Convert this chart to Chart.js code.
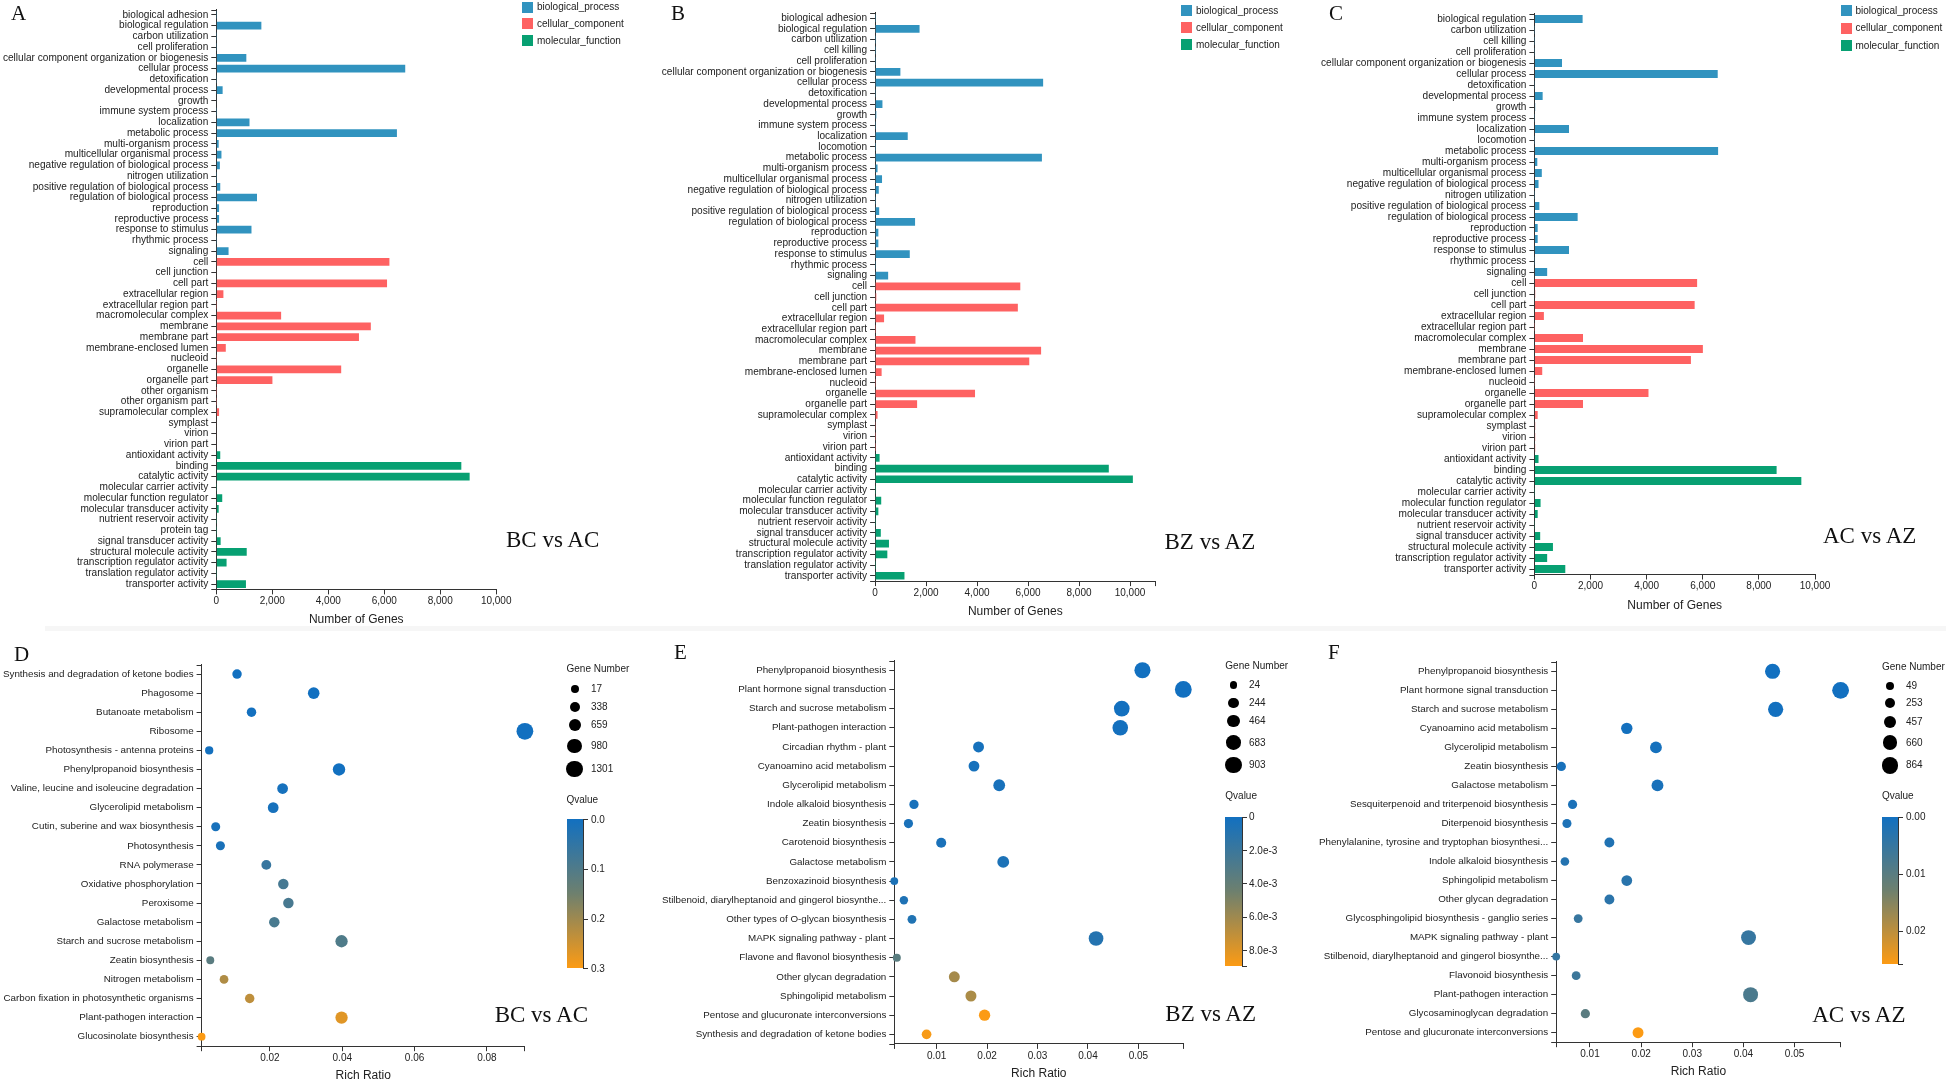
<!DOCTYPE html>
<html>
<head>
<meta charset="utf-8">
<title>GO classification and KEGG enrichment</title>
<script src="https://cdn.jsdelivr.net/npm/chart.js@4.4.1/dist/chart.umd.min.js"></script>
<style>
  html, body { margin: 0; padding: 0; background: #fff; overflow: hidden; }
  #page { position: relative; width: 1946px; height: 1083px; font-family: 'Liberation Sans', Arial, sans-serif; color: #222; }
  .txt { position: absolute; white-space: nowrap; }
  .serif { font-family: 'Liberation Serif', 'Times New Roman', serif; color: #111; line-height: 1; }
  .dot { position: absolute; border-radius: 50%; background: #000; }
  .blk { position: absolute; }
</style>
</head>
<body>
<div id="page"></div>
<script>
// ---------- GO classification, panel A (BC vs AC) ----------
var bpTermsA = ['biological adhesion', 'biological regulation', 'carbon utilization', 'cell proliferation',
  'cellular component organization or biogenesis', 'cellular process', 'detoxification', 'developmental process',
  'growth', 'immune system process', 'localization', 'metabolic process', 'multi-organism process',
  'multicellular organismal process', 'negative regulation of biological process', 'nitrogen utilization',
  'positive regulation of biological process', 'regulation of biological process', 'reproduction',
  'reproductive process', 'response to stimulus', 'rhythmic process', 'signaling'];
var bpCountsA = [4, 1610, 3, 5, 1073, 6750, 6, 226, 20, 4, 1186, 6453, 85, 184, 127, 3, 141, 1454, 99, 99, 1257, 5, 438];
var ccTermsA = ['cell', 'cell junction', 'cell part', 'extracellular region', 'extracellular region part',
  'macromolecular complex', 'membrane', 'membrane part', 'membrane-enclosed lumen', 'nucleoid', 'organelle',
  'organelle part', 'other organism', 'other organism part', 'supramolecular complex', 'symplast', 'virion', 'virion part'];
var ccCountsA = [6185, 20, 6100, 254, 3, 2316, 5521, 5097, 339, 4, 4462, 2005, 2, 2, 99, 20, 20, 20];
var mfTermsA = ['antioxidant activity', 'binding', 'catalytic activity', 'molecular carrier activity',
  'molecular function regulator', 'molecular transducer activity', 'nutrient reservoir activity', 'protein tag',
  'signal transducer activity', 'structural molecule activity', 'transcription regulator activity',
  'translation regulator activity', 'transporter activity'];
var mfCountsA = [141, 8754, 9051, 3, 212, 85, 5, 2, 155, 1087, 367, 4, 1059];

// ---------- GO classification, panel B (BZ vs AZ) ----------
var bpTermsB = ['biological adhesion', 'biological regulation', 'carbon utilization', 'cell killing', 'cell proliferation',
  'cellular component organization or biogenesis', 'cellular process', 'detoxification', 'developmental process',
  'growth', 'immune system process', 'localization', 'locomotion', 'metabolic process', 'multi-organism process',
  'multicellular organismal process', 'negative regulation of biological process', 'nitrogen utilization',
  'positive regulation of biological process', 'regulation of biological process', 'reproduction',
  'reproductive process', 'response to stimulus', 'rhythmic process', 'signaling'];
var bpCountsB = [4, 1744, 3, 2, 5, 992, 6592, 6, 288, 48, 4, 1280, 2, 6544, 96, 272, 144, 3, 160, 1568, 128, 128, 1360, 5, 512];
var ccTermsB = ['cell', 'cell junction', 'cell part', 'extracellular region', 'extracellular region part',
  'macromolecular complex', 'membrane', 'membrane part', 'membrane-enclosed lumen', 'nucleoid', 'organelle',
  'organelle part', 'supramolecular complex', 'symplast', 'virion', 'virion part'];
var ccCountsB = [5696, 48, 5600, 352, 3, 1584, 6512, 6048, 256, 4, 3920, 1648, 96, 32, 3, 3];
var mfTermsB = ['antioxidant activity', 'binding', 'catalytic activity', 'molecular carrier activity',
  'molecular function regulator', 'molecular transducer activity', 'nutrient reservoir activity',
  'signal transducer activity', 'structural molecule activity', 'transcription regulator activity',
  'translation regulator activity', 'transporter activity'];
var mfCountsB = [176, 9168, 10112, 3, 240, 128, 5, 224, 544, 480, 4, 1152];

// ---------- GO classification, panel C (AC vs AZ) ----------
var bpTermsC = ['biological regulation', 'carbon utilization', 'cell killing', 'cell proliferation',
  'cellular component organization or biogenesis', 'cellular process', 'detoxification', 'developmental process',
  'growth', 'immune system process', 'localization', 'locomotion', 'metabolic process', 'multi-organism process',
  'multicellular organismal process', 'negative regulation of biological process', 'nitrogen utilization',
  'positive regulation of biological process', 'regulation of biological process', 'reproduction',
  'reproductive process', 'response to stimulus', 'rhythmic process', 'signaling'];
var bpCountsC = [1718, 3, 2, 5, 984, 6533, 6, 294, 29, 4, 1233, 2, 6547, 103, 264, 147, 3, 176, 1541, 117, 117, 1233, 5, 455];
var ccTermsC = ['cell', 'cell junction', 'cell part', 'extracellular region', 'extracellular region part',
  'macromolecular complex', 'membrane', 'membrane part', 'membrane-enclosed lumen', 'nucleoid', 'organelle',
  'organelle part', 'supramolecular complex', 'symplast', 'virion', 'virion part'];
var ccCountsC = [5799, 29, 5711, 338, 3, 1732, 6004, 5578, 279, 4, 4066, 1732, 117, 29, 29, 29];
var mfTermsC = ['antioxidant activity', 'binding', 'catalytic activity', 'molecular carrier activity',
  'molecular function regulator', 'molecular transducer activity', 'nutrient reservoir activity',
  'signal transducer activity', 'structural molecule activity', 'transcription regulator activity',
  'transporter activity'];
var mfCountsC = [147, 8632, 9513, 3, 220, 117, 5, 206, 661, 455, 1101];

var geneTicks = [0, 2000, 4000, 6000, 8000, 10000];

// ---------- KEGG enrichment, panel D (BC vs AC) ----------
var pathwaysD = ['Synthesis and degradation of ketone bodies', 'Phagosome', 'Butanoate metabolism', 'Ribosome',
  'Photosynthesis - antenna proteins', 'Phenylpropanoid biosynthesis', 'Valine, leucine and isoleucine degradation',
  'Glycerolipid metabolism', 'Cutin, suberine and wax biosynthesis', 'Photosynthesis', 'RNA polymerase',
  'Oxidative phosphorylation', 'Peroxisome', 'Galactose metabolism', 'Starch and sucrose metabolism',
  'Zeatin biosynthesis', 'Nitrogen metabolism', 'Carbon fixation in photosynthetic organisms',
  'Plant-pathogen interaction', 'Glucosinolate biosynthesis'];
var richD = [0.0109, 0.0321, 0.0149, 0.0905, 0.0032, 0.0391, 0.0235, 0.0209, 0.0050, 0.0063,
  0.0190, 0.0237, 0.0251, 0.0212, 0.0398, 0.0035, 0.0073, 0.0144, 0.0398, 0.0011];
var genesD = [256, 554, 256, 1301, 77, 674, 435, 435, 196, 196, 307, 405, 405, 405, 659, 30, 151, 256, 659, 17];
var qD = [0.0001, 0.0003, 0.002, 0.0, 0.004, 0.0005, 0.006, 0.008, 0.01, 0.012,
  0.06, 0.085, 0.088, 0.09, 0.1, 0.117, 0.219, 0.234, 0.27, 0.3];
var xTicksD = [0.02, 0.04, 0.06, 0.08];
var sizeLegendD = [17, 338, 659, 980, 1301];
var qTicksD = [0, 0.1, 0.2, 0.3];
var qTickTextD = ['0.0', '0.1', '0.2', '0.3'];

// ---------- KEGG enrichment, panel E (BZ vs AZ) ----------
var pathwaysE = ['Phenylpropanoid biosynthesis', 'Plant hormone signal transduction', 'Starch and sucrose metabolism',
  'Plant-pathogen interaction', 'Circadian rhythm - plant', 'Cyanoamino acid metabolism', 'Glycerolipid metabolism',
  'Indole alkaloid biosynthesis', 'Zeatin biosynthesis', 'Carotenoid biosynthesis', 'Galactose metabolism',
  'Benzoxazinoid biosynthesis', 'Stilbenoid, diarylheptanoid and gingerol biosynthe...',
  'Other types of O-glycan biosynthesis', 'MAPK signaling pathway - plant', 'Flavone and flavonol biosynthesis',
  'Other glycan degradation', 'Sphingolipid metabolism', 'Pentose and glucuronate interconversions',
  'Synthesis and degradation of ketone bodies'];
var richE = [0.0508, 0.0589, 0.0467, 0.0464, 0.0183, 0.0174, 0.0224, 0.0055, 0.0044, 0.0109,
  0.0232, 0.0016, 0.0035, 0.0051, 0.0416, 0.0021, 0.0135, 0.0168, 0.0195, 0.0080];
var genesE = [831, 903, 790, 780, 331, 320, 412, 167, 160, 249, 420, 24, 85, 126, 698, 44, 330, 335, 371, 208];
var qE = [0.0, 0.0, 0.00005, 0.0001, 0.0002, 0.0002, 0.0003, 0.0003, 0.0004, 0.0004,
  0.0005, 0.0005, 0.0006, 0.0007, 0.0009, 0.0035, 0.0062, 0.0064, 0.00896, 0.0088];
var xTicksE = [0.01, 0.02, 0.03, 0.04, 0.05];
var sizeLegendE = [24, 244, 464, 683, 903];
var qTicksE = [0, 0.002, 0.004, 0.006, 0.008];
var qTickTextE = ['0', '2.0e-3', '4.0e-3', '6.0e-3', '8.0e-3'];

// ---------- KEGG enrichment, panel F (AC vs AZ) ----------
var pathwaysF = ['Phenylpropanoid biosynthesis', 'Plant hormone signal transduction', 'Starch and sucrose metabolism',
  'Cyanoamino acid metabolism', 'Glycerolipid metabolism', 'Zeatin biosynthesis', 'Galactose metabolism',
  'Sesquiterpenoid and triterpenoid biosynthesis', 'Diterpenoid biosynthesis',
  'Phenylalanine, tyrosine and tryptophan biosynthesi...', 'Indole alkaloid biosynthesis', 'Sphingolipid metabolism',
  'Other glycan degradation', 'Glycosphingolipid biosynthesis - ganglio series', 'MAPK signaling pathway - plant',
  'Stilbenoid, diarylheptanoid and gingerol biosynthe...', 'Flavonoid biosynthesis', 'Plant-pathogen interaction',
  'Glycosaminoglycan degradation', 'Pentose and glucuronate interconversions'];
var richF = [0.0457, 0.0590, 0.0463, 0.0172, 0.0229, 0.0044, 0.0232, 0.0066, 0.0055, 0.0138,
  0.0051, 0.0172, 0.0138, 0.0077, 0.0410, 0.0034, 0.0073, 0.0414, 0.0091, 0.0194];
var genesF = [712, 864, 720, 371, 409, 182, 415, 175, 160, 239, 125, 314, 235, 144, 693, 49, 140, 700, 182, 333];
var qF = [0.0, 0.0, 0.0001, 0.0003, 0.0005, 0.0008, 0.001, 0.0012, 0.0015, 0.002,
  0.0025, 0.0032, 0.0035, 0.0052, 0.005, 0.0048, 0.006, 0.008, 0.0101, 0.0259];
var xTicksF = [0.01, 0.02, 0.03, 0.04, 0.05];
var sizeLegendF = [49, 253, 457, 660, 864];
var qTicksF = [0, 0.01, 0.02];
var qTickTextF = ['0.00', '0.01', '0.02'];

// ---------- styling ----------
var goColors = { bp: '#3193bf', cc: '#fe6262', mf: '#07a072' };
var goNames = ['biological_process', 'cellular_component', 'molecular_function'];
var axisColor = '#333';
var qStops = [[18, 112, 192], [110, 128, 110], [252, 155, 20]];

Chart.defaults.font.family = "'Liberation Sans', Arial, sans-serif";
Chart.defaults.color = '#222';
Chart.defaults.animation = false;

var page = document.getElementById('page');

function qColor(t) {
  t = Math.max(0, Math.min(1, t));
  var s = t < 0.5 ? 0 : 1;
  var u = t < 0.5 ? t * 2 : (t - 0.5) * 2;
  var a = qStops[s], b = qStops[s + 1];
  return 'rgb(' + [0, 1, 2].map(function (k) { return Math.round(a[k] + (b[k] - a[k]) * u); }).join(',') + ')';
}

function sizeScale(genes) {
  var lo = Math.min.apply(null, genes), hi = Math.max.apply(null, genes);
  return function (n) { return 3.9 + (n - lo) / (hi - lo) * 4.5; };
}

function addText(txt, left, centerY, size) {
  var d = document.createElement('div');
  d.className = 'txt';
  d.textContent = txt;
  d.style.left = left + 'px';
  d.style.top = (centerY - size * 0.6) + 'px';
  d.style.fontSize = size + 'px';
  d.style.lineHeight = (size * 1.2) + 'px';
  page.appendChild(d);
  return d;
}

// serif label, positioned by the top of its capitals
function addSerif(txt, left, capTop, size) {
  var d = document.createElement('div');
  d.className = 'txt serif';
  d.textContent = txt;
  d.style.left = left + 'px';
  d.style.top = (capTop - size * 0.1755) + 'px';
  d.style.fontSize = size + 'px';
  page.appendChild(d);
}

function addBlock(left, top, w, h, bg) {
  var d = document.createElement('div');
  d.className = 'blk';
  d.style.left = left + 'px';
  d.style.top = top + 'px';
  d.style.width = w + 'px';
  d.style.height = h + 'px';
  d.style.background = bg;
  page.appendChild(d);
  return d;
}

function makeCanvas(box) {
  var c = document.createElement('canvas');
  c.width = box.w;
  c.height = box.h;
  c.style.position = 'absolute';
  c.style.left = box.left + 'px';
  c.style.top = box.top + 'px';
  page.appendChild(c);
  return c;
}

function padFor(box, plot) {
  return {
    left: plot.left - box.left - plot.yW,
    top: plot.top - box.top,
    right: box.left + box.w - plot.right,
    bottom: box.top + box.h - plot.bottom - plot.xH
  };
}

// d3 style outer ticks at both ends of the y axis
var outerTicks = {
  id: 'outerTicks',
  afterDraw: function (chart) {
    var a = chart.chartArea, c = chart.ctx;
    c.save();
    c.strokeStyle = axisColor;
    c.lineWidth = 1;
    c.beginPath();
    c.moveTo(a.left - 5, Math.round(a.top) + 0.5);
    c.lineTo(a.left, Math.round(a.top) + 0.5);
    c.moveTo(a.left - 5, Math.round(a.bottom) + 0.5);
    c.lineTo(a.left, Math.round(a.bottom) + 0.5);
    c.stroke();
    c.restore();
  }
};

function goChart(box, plot, bp, bpN, cc, ccN, mf, mfN, xMax) {
  var labels = bp.concat(cc, mf);
  function series(terms, counts) {
    return labels.map(function (l) {
      var i = terms.indexOf(l);
      return i < 0 ? null : counts[i];
    });
  }
  function ds(terms, counts, color) {
    return { data: series(terms, counts), backgroundColor: color, barPercentage: 0.72, categoryPercentage: 1, grouped: false };
  }
  var tickVals = geneTicks.concat(xMax > geneTicks[geneTicks.length - 1] ? [xMax] : []);
  new Chart(makeCanvas(box), {
    type: 'bar',
    data: {
      labels: labels,
      datasets: [ds(bp, bpN, goColors.bp), ds(cc, ccN, goColors.cc), ds(mf, mfN, goColors.mf)]
    },
    options: {
      indexAxis: 'y',
      responsive: false,
      layout: { padding: padFor(box, plot) },
      plugins: { legend: { display: false }, tooltip: { enabled: false } },
      scales: {
        x: {
          type: 'linear', min: 0, max: xMax, bounds: 'data',
          afterBuildTicks: function (s) { s.ticks = tickVals.map(function (v) { return { value: v }; }); },
          ticks: {
            autoSkip: false, maxRotation: 0, padding: 1, font: { size: 10 },
            callback: function (v) { return geneTicks.indexOf(v) < 0 ? '' : v.toLocaleString('en-US'); }
          },
          grid: { drawOnChartArea: false, tickLength: 5, color: axisColor },
          border: { color: axisColor },
          title: { display: true, text: 'Number of Genes', font: { size: 12 }, padding: 0, color: '#222' },
          afterFit: function (s) { s.height = plot.xH; }
        },
        y: {
          ticks: { autoSkip: false, padding: 3, font: { size: 10.1 } },
          grid: { drawOnChartArea: false, offset: false, tickLength: 5, color: axisColor },
          border: { color: axisColor },
          afterFit: function (s) { s.width = plot.yW; }
        }
      }
    },
    plugins: [outerTicks]
  });
}

function keggChart(box, plot, pathways, rich, genes, q, xTicks) {
  var size = sizeScale(genes);
  var qMax = Math.max.apply(null, q);
  var xMin = Math.min.apply(null, rich), xMax = Math.max.apply(null, rich);
  var tickVals = [xMin].concat(xTicks, [xMax]);
  new Chart(makeCanvas(box), {
    type: 'bubble',
    data: {
      datasets: [{
        data: pathways.map(function (p, i) { return { x: rich[i], y: p, r: size(genes[i]) }; }),
        backgroundColor: q.map(function (v) { return qColor(v / qMax); }),
        borderWidth: 0,
        clip: false
      }]
    },
    options: {
      responsive: false,
      layout: { padding: padFor(box, plot) },
      plugins: { legend: { display: false }, tooltip: { enabled: false } },
      scales: {
        x: {
          type: 'linear', min: xMin, max: xMax, bounds: 'data',
          afterBuildTicks: function (s) { s.ticks = tickVals.map(function (v) { return { value: v }; }); },
          ticks: {
            autoSkip: false, maxRotation: 0, padding: 1, font: { size: 10 },
            callback: function (v) { return xTicks.indexOf(v) < 0 ? '' : String(Number(v.toFixed(4))); }
          },
          grid: { drawOnChartArea: false, tickLength: 5, color: axisColor },
          border: { color: axisColor },
          title: { display: true, text: 'Rich Ratio', font: { size: 12 }, padding: 0, color: '#222' },
          afterFit: function (s) { s.height = plot.xH; }
        },
        y: {
          type: 'category', labels: pathways, offset: true,
          ticks: { autoSkip: false, padding: 3, font: { size: 9.8 } },
          grid: { drawOnChartArea: false, offset: false, tickLength: 5, color: axisColor },
          border: { color: axisColor },
          afterFit: function (s) { s.width = plot.yW; }
        }
      }
    },
    plugins: [outerTicks]
  });
}

function goLegend(sqLeft, centers, textLeft) {
  [goColors.bp, goColors.cc, goColors.mf].forEach(function (col, i) {
    addBlock(sqLeft, centers[i] - 5.5, 11, 11, col);
    addText(goNames[i], textLeft, centers[i], 10);
  });
}

function keggLegend(genes, q, legendVals, qTicks, qText, lay) {
  var size = sizeScale(genes);
  var qMax = Math.max.apply(null, q);
  addText('Gene Number', lay.left, lay.titleY, 10);
  legendVals.forEach(function (v, i) {
    var r = size(v), d = document.createElement('div');
    d.className = 'dot';
    d.style.left = (lay.cx - r) + 'px';
    d.style.top = (lay.cy[i] - r) + 'px';
    d.style.width = (2 * r) + 'px';
    d.style.height = (2 * r) + 'px';
    page.appendChild(d);
    addText(String(v), lay.labelX, lay.cy[i], 10);
  });
  addText('Qvalue', lay.left, lay.qTitleY, 10);
  var h = lay.barBottom - lay.barTop;
  addBlock(lay.left, lay.barTop, lay.barW, h,
    'linear-gradient(to bottom, ' + qColor(0) + ' 0%, ' + qColor(0.5) + ' 50%, ' + qColor(1) + ' 100%)');
  var ax = lay.left + lay.barW;
  addBlock(ax, lay.barTop, 1, h + 1, axisColor);
  addBlock(ax, lay.barTop, 5, 1, axisColor);
  addBlock(ax, lay.barBottom, 5, 1, axisColor);
  qTicks.forEach(function (v, i) {
    var y = lay.barTop + v / qMax * h;
    addBlock(ax, y, 5, 1, axisColor);
    addText(qText[i], lay.labelX, y + 0.5, 10);
  });
}

// faint strip between the two rows
addBlock(45, 626, 1901, 5, '#f6f6f6');

// ---------- top row: GO bar charts ----------
goChart({ left: 0, top: 0, w: 640, h: 630 },
  { left: 216.3, right: 496.2, top: 9.6, bottom: 589.4, yW: 215, xH: 37.8 },
  bpTermsA, bpCountsA, ccTermsA, ccCountsA, mfTermsA, mfCountsA, 10000);
goChart({ left: 640, top: 0, w: 660, h: 630 },
  { left: 875.1, right: 1155.5, top: 12.9, bottom: 581.1, yW: 232, xH: 37.8 },
  bpTermsB, bpCountsB, ccTermsB, ccCountsB, mfTermsB, mfCountsB, 11000);
goChart({ left: 1300, top: 0, w: 646, h: 630 },
  { left: 1534.4, right: 1815, top: 13.5, bottom: 574.5, yW: 232, xH: 38.4 },
  bpTermsC, bpCountsC, ccTermsC, ccCountsC, mfTermsC, mfCountsC, 10000);

goLegend(522, [7.2, 23.8, 40.5], 537);
goLegend(1181, [10.5, 27.5, 44.5], 1196);
goLegend(1841, [10.8, 28.3, 45.8], 1855.5);

// ---------- bottom row: KEGG bubble charts ----------
keggChart({ left: 0, top: 630, w: 640, h: 453 },
  { left: 201.6, right: 524.9, top: 664.5, bottom: 1046.2, yW: 200, xH: 36.8 },
  pathwaysD, richD, genesD, qD, xTicksD);
keggChart({ left: 655, top: 630, w: 645, h: 453 },
  { left: 894.3, right: 1183.3, top: 660.7, bottom: 1043.9, yW: 238, xH: 36.6 },
  pathwaysE, richE, genesE, qE, xTicksE);
keggChart({ left: 1300, top: 630, w: 646, h: 453 },
  { left: 1556.2, right: 1840.6, top: 661.8, bottom: 1042.2, yW: 250, xH: 37 },
  pathwaysF, richF, genesF, qF, xTicksF);

keggLegend(genesD, qD, sizeLegendD, qTicksD, qTickTextD, {
  left: 566.5, titleY: 669.3, cx: 574.7, cy: [689.3, 706.7, 725.3, 746, 769], labelX: 591,
  qTitleY: 800, barTop: 819.3, barBottom: 968.3, barW: 16.4
});
keggLegend(genesE, qE, sizeLegendE, qTicksE, qTickTextE, {
  left: 1225.3, titleY: 665.7, cx: 1233.5, cy: [685, 702.7, 721.3, 742.7, 765], labelX: 1249,
  qTitleY: 796, barTop: 816.7, barBottom: 966, barW: 16.3
});
keggLegend(genesF, qF, sizeLegendF, qTicksF, qTickTextF, {
  left: 1882, titleY: 666.7, cx: 1890.1, cy: [686, 703.3, 722, 742.7, 765.3], labelX: 1906,
  qTitleY: 796, barTop: 816.7, barBottom: 964.3, barW: 16.2
});

// ---------- panel letters and comparison names ----------
addSerif('A', 11, 6.7, 21);
addSerif('B', 671, 6.7, 21);
addSerif('C', 1329, 6.7, 21);
addSerif('D', 14, 648, 21);
addSerif('E', 674, 646, 21);
addSerif('F', 1328, 646, 21);

addSerif('BC vs AC', 506, 532.3, 23);
addSerif('BZ vs AZ', 1164.5, 534, 23);
addSerif('AC vs AZ', 1823, 528.3, 23);
addSerif('BC vs AC', 494.7, 1006.7, 23);
addSerif('BZ vs AZ', 1165.3, 1006, 23);
addSerif('AC vs AZ', 1812.2, 1006.7, 23);
</script>
</body>
</html>
